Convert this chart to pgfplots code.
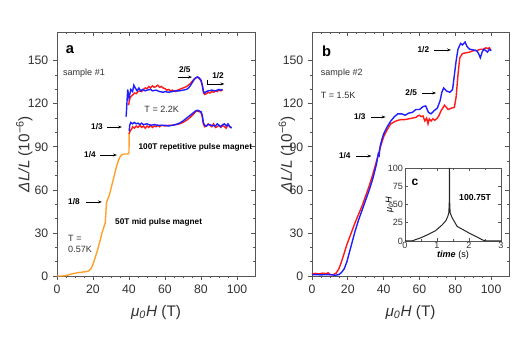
\documentclass[border=0pt]{standalone}
\usepackage{fontspec}
\setmainfont{Liberation Sans}
\usepackage{pgfplots}
\pgfplotsset{compat=1.18}
\usetikzlibrary{arrows.meta}
\definecolor{myblue}{RGB}{30,30,255}
\definecolor{myred}{RGB}{255,25,25}
\definecolor{myorange}{RGB}{255,160,40}
\definecolor{axgray}{RGB}{85,85,85}
\definecolor{txt}{RGB}{50,50,50}
\newcommand{\bl}{\fontsize{6.2}{7}\selectfont\bfseries}
\newcommand{\rg}{\fontsize{6.8}{8}\selectfont}
\pgfplotsset{
 common/.style={scale only axis,
  axis line style={axgray, line width=0.6pt},
  every tick/.style={axgray, line width=0.5pt},
  /pgf/number format/assume math mode=true,
  tick label style={text=txt},
  clip=false},
 mainax/.style={common, width=148.5pt, height=183pt,
  xmin=0,xmax=110,ymin=0,ymax=170,
  xtick={0,20,...,100}, ytick={0,30,...,150},
  minor x tick num=3, minor y tick num=2,
  major tick length=3pt, minor tick length=1.6pt,
  tick label style={font=\fontsize{9.2}{10}\selectfont}},
 lowerax/.style={mainax, tick align=outside, xtick pos=lower, ytick pos=left,
  xlabel={\fontsize{11.5}{12}\selectfont\textit{μ}\textsubscript{\textit{0}}\textit{H} (T)},
  ylabel={\fontsize{11.5}{12}\selectfont\textit{ΔL/L} (10\textsuperscript{−6})},
  label style={text=txt},
  xlabel style={at={(axis description cs:0.5,-0.15)}, anchor=center},
 },
 upperax/.style={mainax, tick align=inside, xtick pos=upper, ytick pos=right,
  xticklabels={}, yticklabels={}},
}
\begin{document}
\begin{tikzpicture}
\path[use as bounding box] (0,0) rectangle (393.75pt,262.5pt);
% ---------------- panel a ----------------
\begin{axis}[upperax, at={(42.75pt,55.5pt)}, anchor=south west]
\end{axis}
\begin{axis}[lowerax, at={(42.75pt,55.5pt)}, anchor=south west,
  ylabel style={at={(axis description cs:-0.165,0.5)}, anchor=center}]
\addplot[myorange, line width=1.05pt] coordinates {
(0,0) (3,0) (5,0.3) (8,1.4) (12,2.4) (16,3) (17.5,3.5) (18.5,4.5) (19.5,6.5) (20.5,10) (21.5,14) (22.5,18) (24,25) (25,30) (26,34) (26.8,37) (27.2,45) (27.5,51) (28,53) (29,56) (30,61) (31,66) (32,71) (33,76) (34,80) (35,83) (36,84.5) (37.5,85) (39.5,85) (40,86) (40.1,100)};
% upper pair
\addplot[myred, line width=1.05pt] coordinates {
(39.8,119) (40.3,123) (41,125) (42,126) (43,127.5) (44,127) (45,128.5) (46,129) (47,128.5) (48,130) (49,131) (50,130.5) (51,132) (52,131) (53,132.5) (54,131.5) (55,132) (56,133) (57,131.5) (58,132) (59,131) (60,130.5) (61,129.5) (62,130) (63,129) (64,129.5) (65,129) (66,128.5) (67,129.5) (68,130) (69,130.5) (70,131) (71,131.5) (72,132) (73,133) (74,134) (75,135.5) (76,137) (77,138) (78,138.5) (79,137.5) (80,136) (80.7,133) (81.3,128) (82,126.5) (83,127) (84,128) (85,127.5) (86,128.5) (87,128) (88,129) (89,128.5) (90,129.5) (91,129) (92,129.5)};
\addplot[myblue, line width=1.05pt] coordinates {
(38.4,111) (38.7,117) (39,124) (39.3,130) (39.6,127) (40,124) (40.5,127) (41,130) (42,128.5) (42.7,133) (43.5,131) (44.5,129) (45.5,131) (46.5,129) (47.5,130) (49,129) (50,129.5) (52,130) (53,129) (55,129.5) (57,128.5) (59,128) (60,128.5) (62,128) (64,128.5) (66,129) (68,129) (70,129.5) (72,130) (73,131) (74,132.5) (75,134.5) (76,136.5) (77,138) (78,138.7) (79,138) (80,136.5) (80.7,133) (81.3,129) (82,127.5) (83,128.5) (84,129) (86,129.5) (88,129) (90,130) (91,129.5) (92,130)};
% lower pair
\addplot[myred, line width=1.05pt] coordinates {
(40.1,99) (40.6,101) (41.5,102.5) (42,104) (43,103) (44,104.5) (45,103.5) (46,105) (47,103.5) (48,104.5) (49,103) (50,104.5) (51,103.5) (52,105) (53,103.5) (54,104.5) (55,104) (56,105) (57,104) (58,105) (60,104.5) (62,105) (64,105) (66,105.5) (68,106) (70,107) (72,108.5) (74,110.5) (76,113) (77,114.5) (78,115) (79,114.5) (80,114) (80.7,111) (81.3,106) (82,104) (83,104.5) (84,106) (85,105) (86,104) (87,106) (88,103.5) (89,104) (90,105) (91,103.5) (92,105) (93,104) (94,103) (95,105.5) (96,104) (97,103.5)};
\addplot[myblue, line width=1.05pt] coordinates {
(40.1,101) (40.4,105) (41,107) (42,106) (43,107) (44,106) (45,106.5) (46,105.5) (47,106.5) (48,105.5) (50,106) (52,105) (54,105.5) (56,105) (58,105) (60,105) (62,104.5) (64,105) (66,105.5) (68,106.5) (70,108) (72,110) (74,112) (76,114) (77,115) (78,115.5) (79,115) (80,114.5) (80.7,112) (81.3,107) (82,105) (83,104.5) (84,105.5) (86,105) (88,104.5) (89,106) (90,105) (91,104) (92,105.5) (93,106) (94,104.5) (95,106) (96,104) (97,103)};
% annotations
\node[anchor=center, font=\fontsize{11}{12}\selectfont\bfseries] at (axis cs:7.2,158) {a};
\node[anchor=west, inner sep=0pt, font=\rg, text=txt] at (axis cs:3.2,141.4) {sample \#1};
\node[font=\bl] at (axis cs:71,144) {2/5};
\draw[-{Stealth[length=3pt,width=2.2pt]}, line width=0.5pt] (axis cs:67,138.6) -- (axis cs:75,138.6);
\node[font=\bl] at (axis cs:89.5,139.8) {1/2};
\draw[-{Stealth[length=3pt,width=2.2pt]}, line width=0.5pt] (axis cs:83.3,136.8) -- (axis cs:83.3,133.8) -- (axis cs:93,133.8);
\node[font=\rg, text=txt] at (axis cs:58.2,116) {T = 2.2K};
\node[font=\bl] at (axis cs:22.2,103.8) {1/3};
\draw[-{Stealth[length=3pt,width=2.2pt]}, line width=0.5pt] (axis cs:27.8,103.8) -- (axis cs:36.1,103.8);
\node[anchor=west, inner sep=0pt, font=\bl] at (axis cs:45.2,89.9) {100T repetitive pulse magnet};
\node[font=\bl] at (axis cs:18.3,84.3) {1/4};
\draw[-{Stealth[length=3pt,width=2.2pt]}, line width=0.5pt] (axis cs:23.9,84.3) -- (axis cs:33.3,84.3);
\node[font=\bl] at (axis cs:9.4,51.6) {1/8};
\draw[-{Stealth[length=3pt,width=2.2pt]}, line width=0.5pt] (axis cs:16.1,51.6) -- (axis cs:25,51.6);
\node[anchor=west, inner sep=0pt, font=\bl] at (axis cs:32.2,37.6) {50T mid pulse magnet};
\node[anchor=west, inner sep=0pt, font=\rg, text=txt] at (axis cs:6.1,26.5) {T =};
\node[anchor=west, inner sep=0pt, font=\rg, text=txt] at (axis cs:6.1,18.8) {0.57K};
\end{axis}
% ---------------- panel b ----------------
\begin{axis}[upperax, at={(234pt,55.5pt)}, anchor=south west, width=147.75pt]
\end{axis}
\begin{axis}[lowerax, at={(234pt,55.5pt)}, anchor=south west, width=147.75pt,
  ylabel style={at={(axis description cs:-0.128,0.5)}, anchor=center}]
\addplot[myred, line width=1.05pt] coordinates {
(0,1.5) (2,1.8) (4,1.5) (6,2) (8,1.6) (9,2.2) (10,1) (12,1) (13.5,2) (15,5) (16.5,10) (18,16) (19.5,22) (21,27) (22.5,32) (24,37) (26,43) (28,49) (30,56) (32,63) (34,71) (36,80) (38,89) (40,97) (42,102) (44,106) (46,107.5) (48,108.5) (50,109) (52,109) (54,109.5) (56,110) (58,110.5) (59,111.5) (60,112) (61,111) (62,111.5) (63,108) (64,110) (64.8,106) (65.5,109.5) (66.5,108) (67.5,109.5) (68.5,108.5) (70,110) (71,112) (72,115) (73,117) (74,119) (75,117.5) (76,116) (77,116.5) (78,117) (79.5,117.5) (80.5,125) (81.5,140) (82.5,152) (84,155) (86,155.5) (88,156) (90,157) (92,157) (94,158) (96,158) (97,159) (98,158.5) (99,159) (100,157)};
\addplot[myblue, line width=1.05pt] coordinates {
(0,1) (5,0.8) (10,1) (13,0.5) (15,1) (16.5,2.5) (18,5) (19.5,10) (21,17) (22.5,24) (24,31) (26,39) (28,46) (30,53) (32,60) (34,68) (36,78) (37,85) (37.5,84) (38,90) (39,95) (40,99) (42,104) (44,108) (46,111) (48,113) (50,113) (52,112) (54,113.5) (56,114) (58,116) (60,116) (62,118) (63.5,118.5) (65,114) (66.5,113) (68,115) (70,117) (71.5,122) (72.5,128) (73.5,131) (75,129) (77,128) (78.5,130) (79.5,140) (80.5,150) (81.5,158) (83,162) (84,161) (85.5,163) (86.5,160) (88,158) (90,157.5) (92,157) (93,155) (94,152) (95,156) (96,158) (97,157) (98,156) (99,158) (100,157)};
\node[anchor=center, font=\fontsize{11}{12}\selectfont\bfseries] at (axis cs:8.2,156.8) {b};
\node[anchor=west, inner sep=0pt, font=\rg, text=txt] at (axis cs:4.8,141) {sample \#2};
\node[anchor=west, inner sep=0pt, font=\rg, text=txt] at (axis cs:4.8,126) {T = 1.5K};
\node[font=\bl] at (axis cs:62.2,157.5) {1/2};
\draw[-{Stealth[length=3pt,width=2.2pt]}, line width=0.5pt] (axis cs:68.3,157.5) -- (axis cs:77.6,157.5);
\node[font=\bl] at (axis cs:55.4,127.5) {2/5};
\draw[-{Stealth[length=3pt,width=2.2pt]}, line width=0.5pt] (axis cs:61.5,127.5) -- (axis cs:69.3,127.5);
\node[font=\bl] at (axis cs:26.7,110.8) {1/3};
\draw[-{Stealth[length=3pt,width=2.2pt]}, line width=0.5pt] (axis cs:33.2,110.8) -- (axis cs:41.1,110.8);
\node[font=\bl] at (axis cs:18.3,83.6) {1/4};
\draw[-{Stealth[length=3pt,width=2.2pt]}, line width=0.5pt] (axis cs:24.8,83.6) -- (axis cs:33.2,83.6);
\end{axis}
% ---------------- inset c ----------------
\begin{axis}[common, at={(303.75pt,81.75pt)}, anchor=south west, width=72pt, height=54.75pt,
  axis background/.style={fill=white},
  xmin=0,xmax=3,ymin=0,ymax=100, xtick={0,1,2,3}, ytick={0,25,50,75,100},
  minor x tick num=1, minor y tick num=0, tick align=inside,
  major tick length=2.2pt, minor tick length=1.2pt,
  tick label style={font=\fontsize{6.8}{7}\selectfont},
  xticklabel style={yshift=2.5pt}, yticklabel style={xshift=2pt},
  xlabel={\fontsize{6.8}{7}\selectfont\textbf{\textit{time}} (s)},
  ylabel={\fontsize{6.8}{7}\selectfont\textit{μ}\textsubscript{\textit{0}}\textit{H}},
  xlabel style={at={(axis description cs:0.5,-0.2)}, anchor=center},
  ylabel style={at={(axis description cs:-0.16,0.5)}, anchor=center}]
\addplot[black!85, line width=0.75pt] coordinates {
(0,0) (0.21,0) (0.5,4.5) (0.75,9.5) (0.95,14) (1.16,22) (1.28,28) (1.34,34) (1.37,39) (1.385,55) (1.39,100) (1.395,55) (1.41,39) (1.47,32) (1.63,20) (2.0,11) (2.25,5.5) (2.42,1.5) (2.53,0) (3,0)};
\node[font=\fontsize{9}{10}\selectfont\bfseries] at (axis cs:0.31,81) {c};
\node[font=\fontsize{6.5}{7}\selectfont\bfseries] at (axis cs:2.19,60) {100.75T};
\end{axis}
\end{tikzpicture}
\end{document}
